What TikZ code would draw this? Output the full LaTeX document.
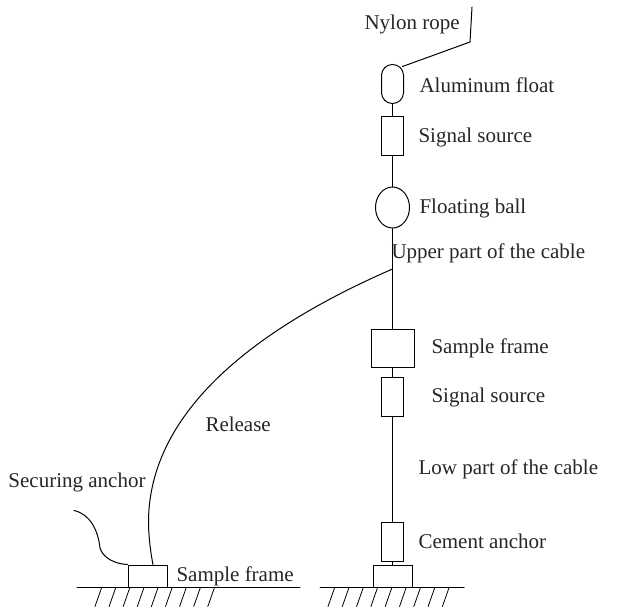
\documentclass[tikz,border=0pt]{standalone}
\usepackage{fontspec}
\setmainfont{Liberation Serif}
\usetikzlibrary{shapes.geometric}
\begin{document}
\begin{tikzpicture}[x=1pt, y=-1pt, line width=1pt, line cap=round,
				box/.style={draw, rectangle, inner sep=0pt, line width=1pt},
				tag/.style={right, inner sep=0pt, yshift=-1.5pt, font=\fontsize{21}{23}\selectfont, text=black!85},
				hatch/.style={line width=0.8pt}]
				\useasboundingbox (0,0) rectangle (617,612);
				%Bauteile
				\node[box, rounded corners=10.9pt, minimum width=22pt, minimum height=39pt] (float) at (392.5,84) {};
				\node[box, minimum width=22pt, minimum height=39pt] (sourceA) at (392.5,136.5) {};
				\node[box, ellipse, minimum width=34pt, minimum height=41pt] (ball) at (392.5,207.5) {};
				\node[box, minimum width=43pt, minimum height=38pt] (frameA) at (392.5,348) {};
				\node[box, minimum width=22pt, minimum height=39pt] (sourceB) at (392.5,397) {};
				\node[box, minimum width=22pt, minimum height=39pt] (cement) at (392.5,541.5) {};
				\node[box, minimum width=39pt, minimum height=22pt] (baseR) at (392.5,576) {};
				\node[box, minimum width=39pt, minimum height=22pt] (baseL) at (147.5,576) {};
				% Hilfspunkte
				\coordinate (ropeA) at (470,42);
				\coordinate (ropeB) at (472,7);
				\coordinate (branch) at (392.5,269);
				\coordinate (anchorEnd) at (74,510.5);
				\coordinate (groundLa) at (77,587);
				\coordinate (groundLb) at (300,587);
				\coordinate (groundRa) at (320,587);
				\coordinate (groundRb) at (464,587);
				% Seil und Kabel
				\draw (float.south) -- (sourceA.north);
				\draw (sourceA.south) -- (ball.north);
				\draw (ball.south) -- (frameA.north);
				\draw (frameA.south) -- (sourceB.north);
				\draw (sourceB.south) -- (cement.north);
				\draw (cement.south) -- (baseR.north);
				\draw ([xshift=-1.5pt,yshift=-2.5pt]float.north east) -- (ropeA) -- (ropeB);
				\draw (branch) .. controls (250,331) and (147,415) .. (148.5,525) .. controls (149,540) and (151,555) .. ([xshift=5.5pt]baseL.north);
				\draw (anchorEnd) .. controls (90,514) and (98,530) .. (100,548) .. controls (103,558) and (115,564) .. (baseL.north west);
				% Boden
				\draw (groundLa) -- (groundLb);
				\draw (groundRa) -- (groundRb);
				\foreach \x in {0,...,8} {
					\draw[hatch] (95+14.1*\x,606.5) -- (101.5+14.1*\x,588);
					\draw[hatch] (328+14.3*\x,606.5) -- (334.5+14.3*\x,588);
				}
				%Beschriftung
				\node[tag] (tRope) at (364,23) {Nylon rope};
				\node[tag] (tFloat) at (419,84) {Aluminum float};
				\node[tag] (tSourceA) at (418,136) {Signal source};
				\node[tag] (tBall) at (419,207) {Floating ball};
				\node[tag] (tUpper) at (391,252) {Upper part of the cable};
				\node[tag] (tFrameA) at (431,347) {Sample frame};
				\node[tag] (tSourceB) at (431,396) {Signal source};
				\node[tag] (tRelease) at (205,423) {Release};
				\node[tag] (tLow) at (418,468) {Low part of the cable};
				\node[tag] (tAnchor) at (8,481) {Securing anchor};
				\node[tag] (tCement) at (418,540) {Cement anchor};
				\node[tag] (tFrameB) at (176,575) {Sample frame};
			\end{tikzpicture}
\end{document}
